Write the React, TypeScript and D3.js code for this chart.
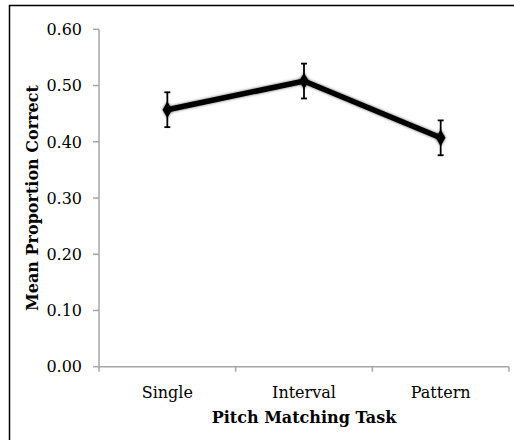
import React from "react";
import * as d3 from "d3";

const categories = ["Single", "Interval", "Pattern"];
const means = [0.457, 0.508, 0.407];
const errors = [0.031, 0.031, 0.031];
const yTicks = [0, 0.1, 0.2, 0.3, 0.4, 0.5, 0.6];
const xTitle = "Pitch Matching Task";
const yTitle = "Mean Proportion Correct";

const W = 514;
const H = 440;
const left = 99;
const right = 509;
const top = 29.3;
const bottom = 366.7;
const font = "'DejaVu Serif', serif";
const axisColor = "#a6a6a6";

export default function App() {
  const x = d3.scaleBand<string>().domain(categories).range([left, right]);
  const y = d3.scaleLinear().domain([0, 0.6]).range([bottom, top]);
  const cx = (c: string) => (x(c) as number) + x.bandwidth() / 2;
  const pts = categories.map((c, i) => ({ c, v: means[i], e: errors[i] }));
  const line = d3
    .line<{ c: string; v: number }>()
    .x((d) => cx(d.c))
    .y((d) => y(d.v));
  const diamond = d3.symbol(d3.symbolDiamond, 80)() as string;
  const bounds = [...categories.map((c) => x(c) as number), right];

  return (
    <svg
      width={W}
      height={H}
      style={{ position: "absolute", left: 0, top: 0, background: "#fff" }}
    >
      <defs>
        <filter id="sh" x="-50%" y="-50%" width="200%" height="200%">
          <feGaussianBlur in="SourceAlpha" stdDeviation="1.5" />
          <feOffset dx="0" dy="0" result="b" />
          <feComponentTransfer>
            <feFuncA type="linear" slope="0.6" />
          </feComponentTransfer>
          <feMerge>
            <feMergeNode />
            <feMergeNode in="SourceGraphic" />
          </feMerge>
        </filter>
      </defs>
      <rect x={9.5} y={5.5} width={W + 10} height={H + 10} fill="#fff" stroke="#000" strokeWidth={1.5} />
      {/* y axis */}
      <line x1={left} x2={left} y1={top} y2={bottom} stroke={axisColor} strokeWidth={1.5} />
      {yTicks.map((t) => (
        <g key={t}>
          <line x1={left - 6} x2={left} y1={y(t)} y2={y(t)} stroke={axisColor} strokeWidth={1.5} />
          <text
            x={82}
            y={y(t)}
            dy="0.36em"
            textAnchor="end"
            fontFamily={font}
            fontSize={16}
            fill="#000"
          >
            {t.toFixed(2)}
          </text>
        </g>
      ))}
      {/* x axis */}
      <line x1={left} x2={right} y1={bottom} y2={bottom} stroke={axisColor} strokeWidth={1.5} />
      {bounds.map((b, i) => (
        <line key={i} x1={b} x2={b} y1={bottom} y2={bottom + 5} stroke={axisColor} strokeWidth={1.5} />
      ))}
      {categories.map((c) => (
        <text key={c} x={cx(c)} y={397.5} textAnchor="middle" fontFamily={font} fontSize={16} fill="#000">
          {c}
        </text>
      ))}
      <text x={(left + right) / 2} y={423} textAnchor="middle" fontFamily={font} fontSize={16} fontWeight="bold" fill="#000">
        {xTitle}
      </text>
      <text
        transform={`translate(32,${(top + bottom) / 2}) rotate(-90)`}
        textAnchor="middle"
        dy="0.35em"
        fontFamily={font}
        fontSize={16}
        fontWeight="bold"
        fill="#000"
      >
        {yTitle}
      </text>
      {/* line */}
      <path d={line(pts) as string} fill="none" stroke="#000" strokeWidth={5.5} strokeLinejoin="miter" filter="url(#sh)" />
      {pts.map((p) => (
        <g key={p.c}>
          <line x1={cx(p.c)} x2={cx(p.c)} y1={y(p.v + p.e)} y2={y(p.v - p.e)} stroke="#000" strokeWidth={1.8} />
          <line x1={cx(p.c) - 3} x2={cx(p.c) + 3} y1={y(p.v + p.e)} y2={y(p.v + p.e)} stroke="#000" strokeWidth={1.8} />
          <line x1={cx(p.c) - 3} x2={cx(p.c) + 3} y1={y(p.v - p.e)} y2={y(p.v - p.e)} stroke="#000" strokeWidth={1.8} />
          <path d={diamond} transform={`translate(${cx(p.c)},${y(p.v)})`} fill="#000" filter="url(#sh)" />
        </g>
      ))}
    </svg>
  );
}
